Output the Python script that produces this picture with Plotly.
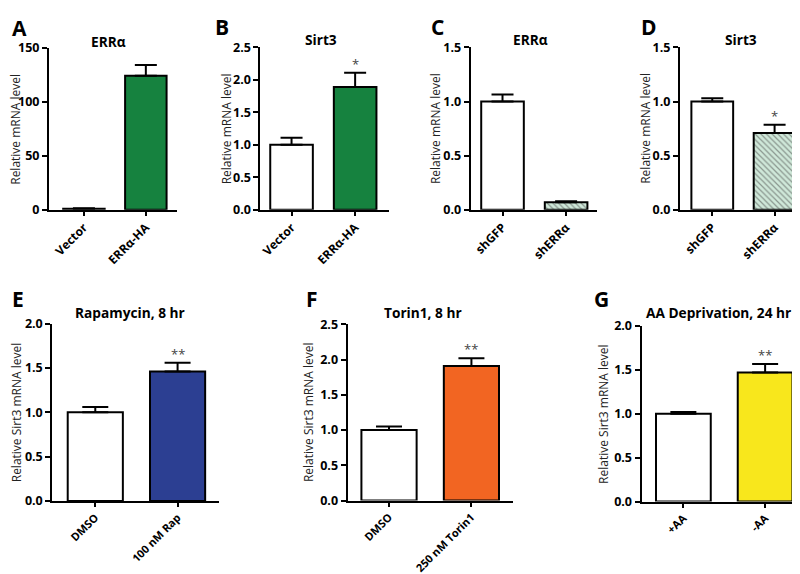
import plotly.graph_objects as go

W, H = 800, 574

# ---- data ----
catA = ["Vector", "ERRα-HA"]; valA = [1.0, 124.0]; errA = [0.5, 10.0]
catB = ["Vector", "ERRα-HA"]; valB = [1.0, 1.89]; errB = [0.11, 0.22]
catC = ["shGFP", "shERRα"]; valC = [1.0, 0.07]; errC = [0.065, 0.008]
catD = ["shGFP", "shERRα"]; valD = [1.0, 0.71]; errD = [0.03, 0.075]
catE = ["DMSO", "100 nM Rap"]; valE = [1.0, 1.46]; errE = [0.06, 0.10]
catF = ["DMSO", "250 nM Torin1"]; valF = [1.0, 1.91]; errF = [0.05, 0.11]
catG = ["+AA", "-AA"]; valG = [1.0, 1.47]; errG = [0.02, 0.095]

titles = ["ERRα", "Sirt3", "ERRα", "Sirt3", "Rapamycin, 8 hr", "Torin1, 8 hr", "AA Deprivation, 24 hr"]
letters = ["A", "B", "C", "D", "E", "F", "G"]
ytitles = ["Relative mRNA level"] * 4 + ["Relative Sirt3 mRNA level"] * 3
stars = [["", ""], ["", "*"], ["", ""], ["", "*"], ["", "**"], ["", "**"], ["", "**"]]
ymax = [150, 2.5, 1.5, 1.5, 2.0, 2.5, 2.0]
dticks = [50, 0.5, 0.5, 0.5, 0.5, 0.5, 0.5]

GREEN = "#16823f"
BLUE = "#2c3f92"
ORANGE = "#f26522"
YELLOW = "#f8e71c"
MINT = "#cfe8d9"
colors = [["white", GREEN], ["white", GREEN], ["white", MINT], ["white", MINT],
          ["white", BLUE], ["white", ORANGE], ["white", YELLOW]]
patterns = [None, None, ["", "\\"], ["", "\\"], None, None, None]

panels = [
    (catA, valA, errA), (catB, valB, errB), (catC, valC, errC), (catD, valD, errD),
    (catE, valE, errE), (catF, valF, errF), (catG, valG, errG),
]

# ---- layout in pixels ----
xdom = [(40, 168), (251.7, 380), (462.3, 589), (671.7, 799),
        (43.3, 210), (339, 505), (633.3, 798)]
ydom = [(31.7, 198.7), (31.3, 198.7), (31.3, 198.7), (31.3, 198.7),
        (316, 498.7), (316.7, 498.3), (318.3, 499.3)]
xranges = [(-0.565, 1.5), (-0.49, 1.525), (-0.5, 1.49), (-0.52, 1.52),
           (-0.523, 1.5), (-0.503, 1.509), (-0.512, 1.5)]
capw = [11, 11, 11, 11, 13, 13, 13]
xtick_size = [12, 12, 12, 12, 11, 11, 11]
title_x = [100, 312, 522, 733, 121, 415, 710]
title_y = [25, 23, 23, 23, 305, 305, 305]
letter_x = [1, 204, 421, 631, 1, 295, 584]
letter_y = [11, 10, 10, 10, 291, 291, 291]
ytitle_x = [7, 218, 427, 637, 7, 300, 595]

def px(x):
    return x / W

def py(y):
    return 1 - y / H

fig = go.Figure()
annotations = []
layout = dict(width=W, height=H, margin=dict(l=0, r=0, t=0, b=0),
              paper_bgcolor="white", plot_bgcolor="white", showlegend=False,
              font=dict(family="Open Sans", color="black"))

ytickfont = dict(family="Open Sans", size=12.5, color="black", weight="bold")

for i, (cats, vals, errs) in enumerate(panels):
    n = i + 1
    xa = "x" if n == 1 else f"x{n}"
    ya = "y" if n == 1 else f"y{n}"
    marker = dict(color=colors[i], line=dict(color="black", width=2))
    if patterns[i]:
        marker["pattern"] = dict(shape=patterns[i], fgcolor="#7db596",
                                 size=4, solidity=0.3, fillmode="overlay")
    fig.add_trace(go.Bar(
        x=[0, 1], y=vals, width=0.67, marker=marker, xaxis=xa, yaxis=ya,
        error_y=dict(type="data", array=errs, arrayminus=[0, 0], symmetric=False,
                     color="black", thickness=2, width=capw[i]),
        hoverinfo="skip"))
    xkey = "xaxis" if n == 1 else f"xaxis{n}"
    ykey = "yaxis" if n == 1 else f"yaxis{n}"
    layout[xkey] = dict(domain=[px(xdom[i][0]), px(xdom[i][1])], anchor=ya,
                        range=list(xranges[i]), tickmode="array", tickvals=[0, 1],
                        ticktext=cats, tickangle=-45, showline=True, linecolor="black",
                        linewidth=2, ticks="outside", ticklen=4, tickwidth=2,
                        tickcolor="black", showgrid=False, zeroline=False,
                        tickfont=dict(family="Open Sans", size=xtick_size[i],
                                      color="black", weight="bold"),
                        fixedrange=True)
    layout[ykey] = dict(domain=[py(ydom[i][1]), py(ydom[i][0])], anchor=xa,
                        range=[0, ymax[i]], dtick=dticks[i], tick0=0,
                        tickformat="d" if ymax[i] > 10 else ".1f",
                        showline=True, linecolor="black", linewidth=2,
                        ticks="outside", ticklen=5, tickwidth=2, tickcolor="black",
                        showgrid=False, zeroline=False, tickfont=ytickfont,
                        fixedrange=True)
    annotations.append(dict(text=f"<b>{titles[i]}</b>", x=px(title_x[i]), y=py(title_y[i]),
                            xref="paper", yref="paper", showarrow=False,
                            xanchor="center", yanchor="middle",
                            font=dict(family="Open Sans", size=13.7, color="black")))
    annotations.append(dict(text=f"<b>{letters[i]}</b>", x=px(letter_x[i]), y=py(letter_y[i]),
                            xref="paper", yref="paper", showarrow=False,
                            xanchor="left", yanchor="middle",
                            font=dict(family="Open Sans", size=21, color="black")))
    annotations.append(dict(text=ytitles[i], x=px(ytitle_x[i]),
                            y=py((ydom[i][0] + ydom[i][1]) / 2),
                            xref="paper", yref="paper", showarrow=False, textangle=-90,
                            xanchor="center", yanchor="middle",
                            font=dict(family="Open Sans", size=12, color="#222")))
    for j in range(2):
        if stars[i][j]:
            annotations.append(dict(text=stars[i][j], x=j, y=vals[j] + errs[j],
                                    xref=xa, yref=ya, showarrow=False,
                                    yanchor="bottom", yshift=-2,
                                    font=dict(family="Open Sans", size=13, color="#444")))

layout["annotations"] = annotations
fig.update_layout(**layout)
fig.write_html("out.html")
